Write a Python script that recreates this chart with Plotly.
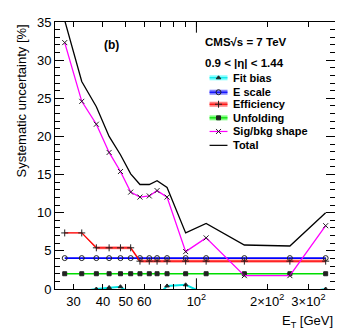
import plotly.graph_objects as go

# E_T bin centres [GeV]
et = [27.5, 32.5, 37.5, 42.5, 47.5, 52.5, 57.5, 63, 68, 75, 90, 110, 160, 250, 355]

fit_bias = [-0.5, -0.3, 0.0, 0.2, 0.3, -0.7, -1.2, -1.5, -1.0, 0.4, 0.55, -0.7, -1.2, -0.8, 0.0]
e_scale = [4.05, 4.05, 4.05, 4.05, 4.05, 4.05, 4.05, 4.05, 4.05, 4.05, 4.05, 4.05, 4.05, 4.05, 4.05]
efficiency = [7.35, 7.35, 5.4, 5.4, 5.4, 5.4, 3.65, 3.65, 3.65, 3.65, 3.65, 3.65, 3.65, 3.65, 3.65]
eff_err = [0.05, 0.05, 0.2, 0.2, 0.2, 0.2, 0.22, 0.22, 0.22, 0.22, 0.22, 0.22, 0.22, 0.22, 0.22]
unfolding = [2.0, 2.0, 2.0, 2.0, 2.0, 2.0, 2.0, 2.0, 2.0, 2.0, 2.0, 2.0, 2.0, 2.0, 2.0]
sig_bkg = [32.3, 24.6, 21.6, 17.9, 15.4, 12.7, 12.05, 12.2, 12.9, 12.05, 4.9, 6.7, 1.75, 1.75, 8.3]
total = [35.2, 27.2, 23.9, 20.0, 17.6, 15.1, 13.7, 13.7, 14.2, 13.3, 7.35, 8.6, 5.77, 5.64, 10.0]

x_tickvals = [30, 40, 50, 60, 100, 200, 300]
x_ticktext = ["30", "40", "50", "60", "10<sup>2</sup>", "2×10<sup>2</sup>", "3×10<sup>2</sup>"]

FONT = "Liberation Sans, Arial, sans-serif"
MK = "#222222"

# name, values, line colour, band colour, marker symbol
series = [
    ("Fit bias", fit_bias, "#00e5e5", "#80ffff", "triangle-up"),
    ("E scale", e_scale, "#0000ff", "#8080ff", "circle-open"),
    ("Efficiency", efficiency, "#ff0000", "#ff8080", "cross-thin-open"),
    ("Unfolding", unfolding, "#00dd00", "#80ff80", "square"),
    ("Sig/bkg shape", sig_bkg, "#ff00ff", None, "x-thin-open"),
    ("Total", total, "#000000", None, None),
]

fig = go.Figure()

# efficiency error band
eff_hi = [v + e for v, e in zip(efficiency, eff_err)]
eff_lo = [v - e for v, e in zip(efficiency, eff_err)]
fig.add_trace(go.Scatter(x=et, y=eff_lo, mode="lines", line=dict(width=0), showlegend=False, hoverinfo="skip"))
fig.add_trace(go.Scatter(x=et, y=eff_hi, mode="lines", line=dict(width=0), fill="tonexty",
                         fillcolor="rgba(255,110,110,0.75)", showlegend=False, hoverinfo="skip"))

widths = {"Fit bias": 2, "E scale": 1.8, "Efficiency": 1.2, "Unfolding": 1.6, "Sig/bkg shape": 1.3, "Total": 1.3}
for name, vals, col, band, sym in series:
    if sym is None:
        fig.add_trace(go.Scatter(x=et, y=vals, mode="lines", line=dict(color=col, width=widths[name]),
                                 showlegend=False))
    else:
        fig.add_trace(go.Scatter(
            x=et, y=vals, mode="lines+markers", line=dict(color=col, width=widths[name]),
            marker=dict(symbol=sym, size=5 if "open" in sym else 4, color=MK, line=dict(color=MK, width=1)),
            showlegend=False))

# hand-made legend, ROOT style, on an overlay axis in plot fractions
leg_y = [0.791, 0.737, 0.692, 0.641, 0.590, 0.538]
for (name, vals, col, band, sym), yy in zip(series, leg_y):
    if band is not None:
        fig.add_trace(go.Scatter(x=[0.552, 0.616], y=[yy, yy], xaxis="x2", yaxis="y2", mode="lines",
                                 line=dict(color=band, width=5), showlegend=False, hoverinfo="skip"))
    fig.add_trace(go.Scatter(x=[0.552, 0.616], y=[yy, yy], xaxis="x2", yaxis="y2", mode="lines",
                             line=dict(color=col, width=1.2), showlegend=False, hoverinfo="skip"))
    if sym is not None:
        fig.add_trace(go.Scatter(x=[0.584], y=[yy], xaxis="x2", yaxis="y2", mode="markers",
                                 marker=dict(symbol=sym, size=5 if "open" in sym else 4, color=MK,
                                             line=dict(color=MK, width=1)),
                                 showlegend=False, hoverinfo="skip"))
    fig.add_annotation(text="<b>%s</b>" % name, xref="x2", yref="y2", x=0.630, y=yy,
                       xanchor="left", yanchor="middle", showarrow=False,
                       font=dict(family=FONT, size=11, color="black"))

fig.add_annotation(text="<b>(b)</b>", xref="paper", yref="paper", x=0.168, y=0.912,
                   xanchor="left", yanchor="middle", showarrow=False, font=dict(family=FONT, size=12))
fig.add_annotation(text="<b>CMS√s = 7 TeV</b>", xref="paper", yref="paper", x=0.53, y=0.926,
                   xanchor="left", yanchor="middle", showarrow=False, font=dict(family=FONT, size=11.5))
fig.add_annotation(text="<b>0.9 < |η| < 1.44</b>", xref="paper", yref="paper", x=0.53, y=0.848,
                   xanchor="left", yanchor="middle", showarrow=False, font=dict(family=FONT, size=11.5))

# axis titles (ROOT puts them at the far end)
fig.add_annotation(text="Systematic uncertainty [%]", xref="paper", yref="paper", x=-0.118, y=1.0,
                   xanchor="center", yanchor="top", textangle=-90, showarrow=False,
                   font=dict(family=FONT, size=13))
fig.add_annotation(text="E<sub>T</sub> [GeV]", xref="paper", yref="paper", x=1.0, y=-0.082,
                   xanchor="right", yanchor="top", showarrow=False, font=dict(family=FONT, size=13))

# long ticks at 10^2, bottom and top
fig.add_shape(type="line", xref="x", yref="paper", x0=100, x1=100, y0=0, y1=0.04, line=dict(color="black", width=1))
fig.add_shape(type="line", xref="x", yref="paper", x0=100, x1=100, y0=0.96, y1=1, line=dict(color="black", width=1))

# the page body adds an 8 px offset, so the figure is 8 px smaller and margins shifted
fig.update_layout(
    width=335, height=324,
    margin=dict(l=47, r=7, t=8, b=43),
    paper_bgcolor="white", plot_bgcolor="white",
    font=dict(family=FONT, size=13, color="black"),
    xaxis=dict(type="log", range=[1.398, 2.590], tickvals=x_tickvals, ticktext=x_ticktext,
               ticks="inside", ticklen=5, tickcolor="black", showline=True, linecolor="black",
               mirror="ticks", showgrid=False, zeroline=False,
               minor=dict(tickvals=[70, 80, 90], ticks="inside", ticklen=5, tickcolor="black")),
    yaxis=dict(range=[0, 35], dtick=5, ticks="inside", ticklen=9, tickcolor="black",
               showline=True, linecolor="black", mirror="ticks", showgrid=False, zeroline=False,
               minor=dict(dtick=1, ticks="inside", ticklen=5, tickcolor="black")),
    xaxis2=dict(overlaying="x", range=[0, 1], visible=False),
    yaxis2=dict(overlaying="y", range=[0, 1], visible=False),
    showlegend=False,
)

fig.write_html("out.html")
